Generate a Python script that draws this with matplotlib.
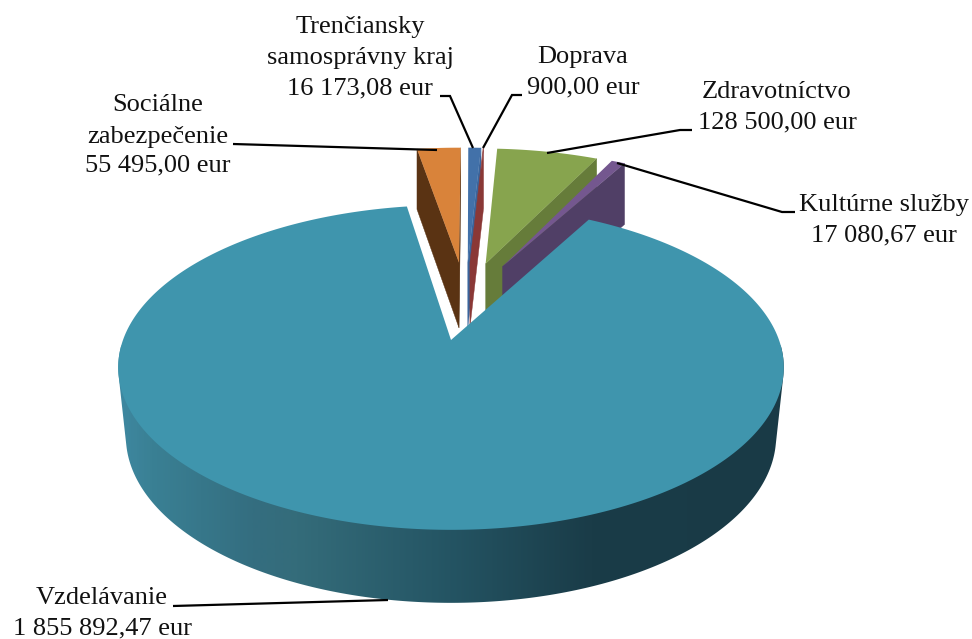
import numpy as np
import matplotlib
matplotlib.use("Agg")
import matplotlib.pyplot as plt
from matplotlib.patches import Polygon
from matplotlib.colors import LinearSegmentedColormap

# --- data -------------------------------------------------------------
categories = ["Trenčiansky\nsamosprávny kraj", "Doprava", "Zdravotníctvo",
              "Kultúrne služby", "Vzdelávanie", "Sociálne\nzabezpečenie"]
values = [16173.08, 900.00, 128500.00, 17080.67, 1855892.47, 55495.00]
value_labels = ["16 173,08 eur", "900,00 eur", "128 500,00 eur",
                "17 080,67 eur", "1 855 892,47 eur", "55 495,00 eur"]
top_colors = ["#4271A9", "#8F3B39", "#87A44E", "#74578F", "#3F95AD", "#D9833A"]
wall_colors = ["#3A659C", "#8A3836", "#667C3A", "#503F66", "#2A5A6A", "#5A3313"]

# --- 3-D pie geometry (perspective projection of a tilted disc) ---------
START = 0.6        # degrees clockwise from the back of the pie
EXPLODE = 0.27
XV, A, Y0, B, K = 451.0, 328.0, 340.0, 100.3, 0.169
BASE_SCALE = 0.977


def project(u, v):
    w = 1 + K * v
    return XV + A * u / w, (Y0 - B * v) / w


def depth(v):
    return 68.0 - 5.0 * v


fracs = np.array(values) / np.sum(values)
edges = START + 360 * np.concatenate([[0], np.cumsum(fracs)])
mids = 0.5 * (edges[:-1] + edges[1:])
main = int(np.argmax(values))


def offset(i):
    if i == main:
        return 0.0, 0.0
    m, m0 = np.radians(mids[i]), np.radians(mids[main])
    return EXPLODE * (np.sin(m) - np.sin(m0)), EXPLODE * (np.cos(m) - np.cos(m0))


def rim(i, theta):
    du, dv = offset(i)
    t = np.radians(theta)
    return du + np.sin(t), dv + np.cos(t)


def convex_hull(points):
    pts = sorted(set(map(tuple, points)))

    def half(seq):
        out = []
        for p in seq:
            while len(out) >= 2 and ((out[-1][0] - out[-2][0]) * (p[1] - out[-2][1])
                                     - (out[-1][1] - out[-2][1]) * (p[0] - out[-2][0])) <= 0:
                out.pop()
            out.append(p)
        return out[:-1]

    return half(pts) + half(pts[::-1])


fig = plt.figure(figsize=(9.72, 6.39), dpi=100)
ax = fig.add_axes([0, 0, 1, 1])
ax.set_xlim(0, 972)
ax.set_ylim(639, 0)
ax.axis("off")

draw_order = [5, 0, 1, 2, 3, 4]
wall_map = LinearSegmentedColormap.from_list(
    "wall", [(0.0, "#3E88A0"), (0.05, "#3A8094"), (0.2, "#346E80"), (0.27, "#346C7A"),
             (0.5, "#245463"), (0.71, "#1A3C48"), (1.0, "#193A46")])


def radial_wall(i, theta, color):
    du, dv = offset(i)
    ur, vr = rim(i, theta)
    xa, ya = project(du, dv)
    xr, yr = project(ur, vr)
    pts = [(xa, ya), (xr, yr), (xr, yr + depth(vr)), (xa, ya + depth(dv))]
    ax.add_patch(Polygon(pts, closed=True, fc=color, ec=color, lw=0.3))


for i in draw_order:
    th = np.linspace(edges[i], edges[i + 1], max(int(edges[i + 1] - edges[i]) * 3, 6))
    if i == main:
        t_front = np.linspace(92, 268, 353)
        ut, vt = rim(i, t_front)
        xt, yt = project(ut, vt)
        xb = XV + (xt - XV) * BASE_SCALE
        yb = yt + depth(vt)
        hull = convex_hull(np.vstack([np.column_stack([xt, yt]), np.column_stack([xb, yb])]))
        clip = Polygon(hull, closed=True, fc="none", ec="none", transform=ax.transData)
        ax.add_patch(clip)
        grad = np.linspace(0, 1, 665).reshape(1, -1)
        im = ax.imshow(grad, cmap=wall_map, extent=(118, 783, 639, 0), aspect="auto",
                       vmin=0, vmax=1, interpolation="bilinear")
        im.set_clip_path(clip)
        ax.set_xlim(0, 972)
        ax.set_ylim(639, 0)
    else:
        du, dv = offset(i)
        xa, _ = project(du, dv)
        for t in (edges[i], edges[i + 1]):
            xr, _ = project(*rim(i, t))
            is_left_edge = t == edges[i]
            if (is_left_edge and xr < xa) or (not is_left_edge and xr > xa):
                radial_wall(i, t, wall_colors[i])
    du, dv = offset(i)
    us, vs = rim(i, th)
    xs, ys = project(us, vs)
    xa, ya = project(du, dv)
    ax.add_patch(Polygon(np.column_stack([np.r_[xa, xs], np.r_[ya, ys]]), closed=True,
                         fc=top_colors[i], ec="none"))

# --- labels -------------------------------------------------------------
font = dict(family="Liberation Serif", fontsize=19, color="#111111", ha="center", va="center")
label_pos = [(360, (27, 58, 88)), (583, (57, 87)), (777, (92, 122)),
             (884, (205, 235)), (102, (598, 628)), (158, (105, 137, 165))]
for name, val, (x, ys) in zip(categories, value_labels, label_pos):
    lines = name.split("\n") + [val]
    for line, y in zip(lines, ys):
        ax.text(x, y, line, **font)

leaders = [
    [(233, 144), (437, 150)],
    [(440, 96), (450, 96), (473, 148)],
    [(522, 95), (512, 95), (483, 148)],
    [(692, 130), (680, 130), (547, 153)],
    [(795, 212), (782, 212), (617, 163)],
    [(173, 606), (388, 600)],
]
for seg in leaders:
    xs, ys = zip(*seg)
    ax.plot(xs, ys, color="black", lw=1.6, solid_joinstyle="miter", solid_capstyle="butt")

fig.savefig("out.png", dpi=100, facecolor="white")
